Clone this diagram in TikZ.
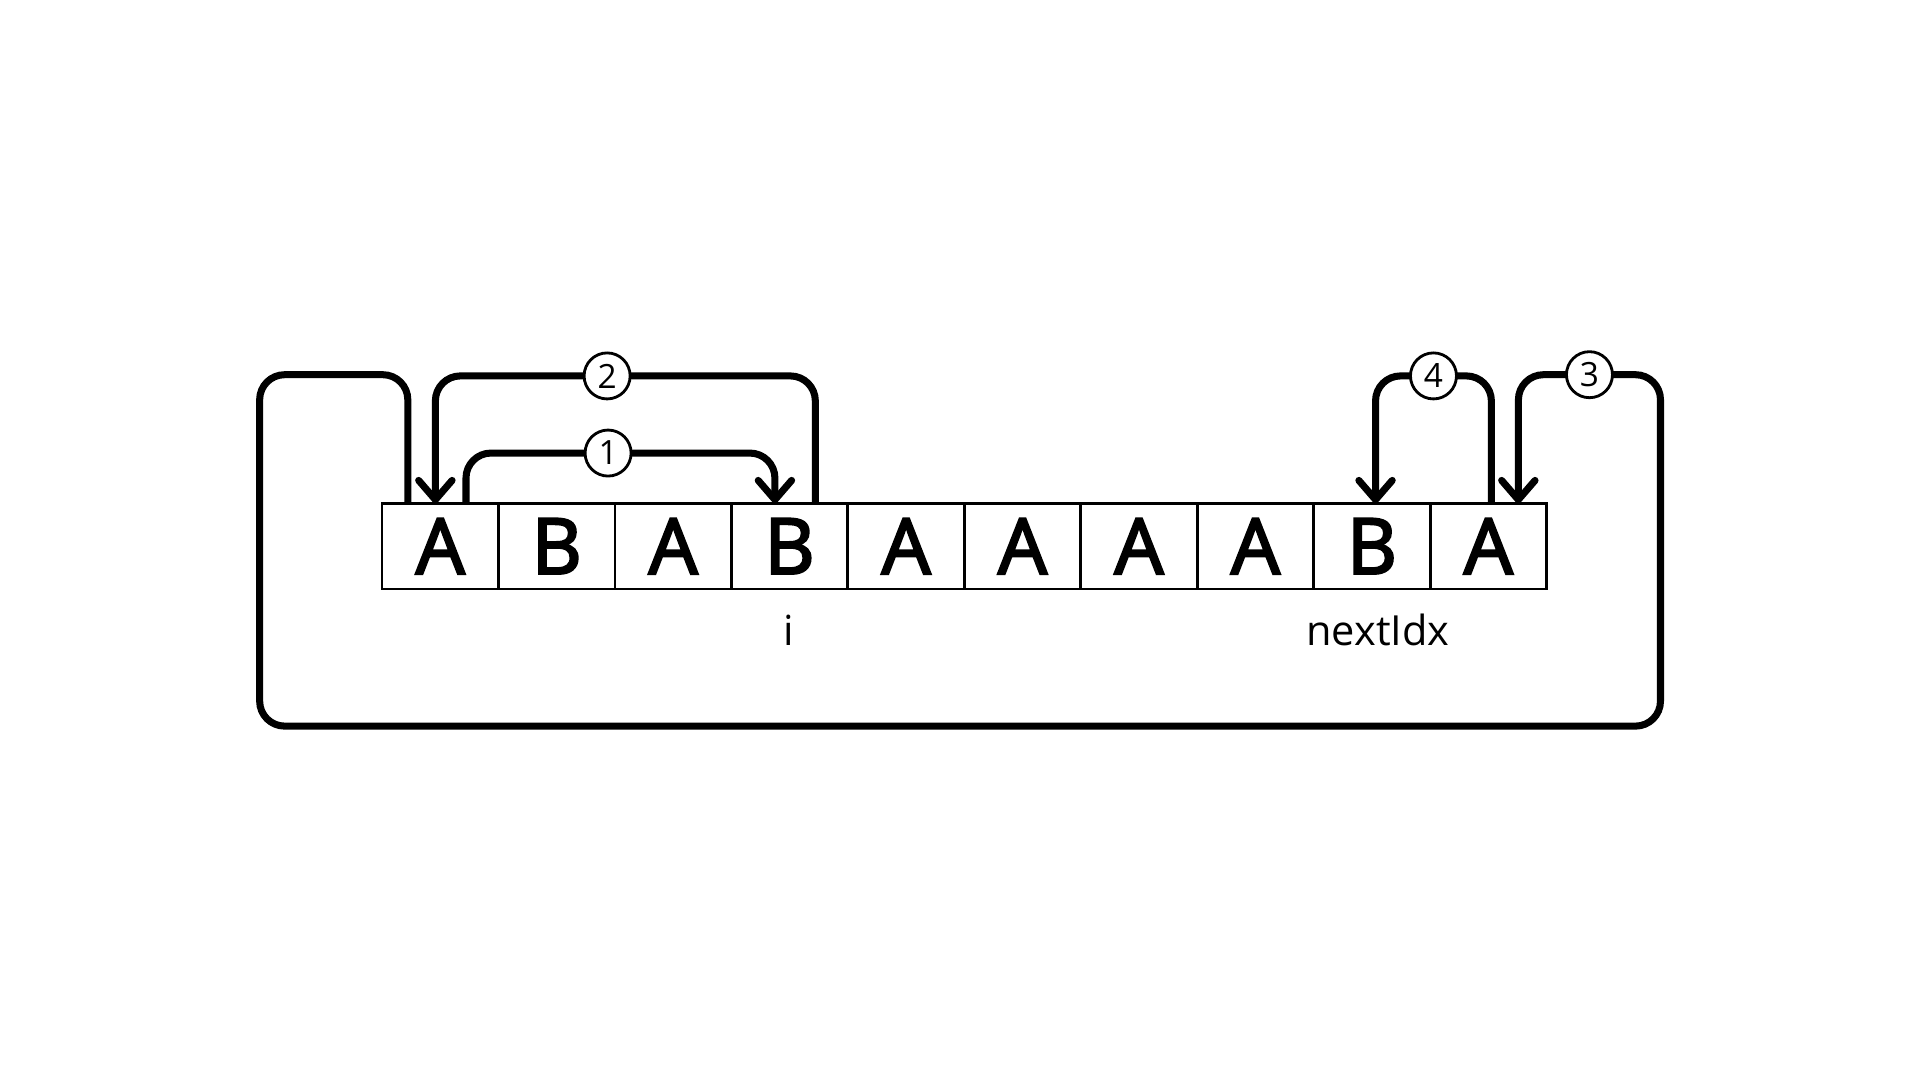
\documentclass[tikz,border=0pt]{standalone}
\usepackage{fontspec}
\setmainfont{Open Sans}
\newfontface\cellfont{Open Sans}[RawFeature={embolden=3}]
\usetikzlibrary{arrows.meta,calc}

\tikzset{
  cell/.style={draw, line width=0.8pt, minimum width=1.1645cm, minimum height=0.857cm,
    inner sep=0pt, outer sep=0pt, font=\fontsize{22}{22}\cellfont},
  link/.style={line width=2pt, rounded corners=0.25cm,
    -{Straight Barb[length=5.5pt,width=9.5pt,round]}},
  num/.style={circle, draw, fill=white, line width=0.8pt, minimum size=0.46cm,
    inner sep=0pt, font=\fontsize{9.5}{9.5}\selectfont},
  idx/.style={anchor=base, font=\fontsize{11.8}{11.8}\selectfont}
}

\begin{document}
\begin{tikzpicture}[x=0.012245cm, y=-0.012245cm]
\useasboundingbox (0,0) rectangle (1568,882);
% the array
\foreach \l [count=\i from 0] in {A,B,A,B,A,A,A,A,B,A}
  \node[cell] (c\i) at ({359.55+95.1*\i},446) {\l};
\node[idx] (ilabel) at ($(c3.south)+(-1,46)$) {i};
\node[idx] (nextlabel) at ($(c8.south)+(5,46)$) {nextIdx};
% 1
\draw[link] ($(c0.north)+(21,0)$) |- node[num, pos=0.73] (n1) {1}
  ($(c3.north)+(-12,-41)$) -- ($(c3.north)+(-12,0)$);
% 2
\draw[link] ($(c3.north)+(21,0)$) |- node[num, pos=0.774] (n2) {2}
  ($(c0.north)+(-4,-104)$) -- ($(c0.north)+(-4,0)$);
% 3
\draw[link] ($(c0.north)+(-26.5,0)$) |- ++(-121,-105) |- ++(1144,287)
  |- node[num, pos=0.75] (n3) {3} ++(-116,-287) -- ($(c9.north)+(24.5,0)$);
% 4
\draw[link] ($(c9.north)+(2.5,0)$) |- node[num, pos=0.75] (n4) {4}
  ($(c8.north)+(3,-104)$) -- ($(c8.north)+(3,0)$);
\end{tikzpicture}
\end{document}
